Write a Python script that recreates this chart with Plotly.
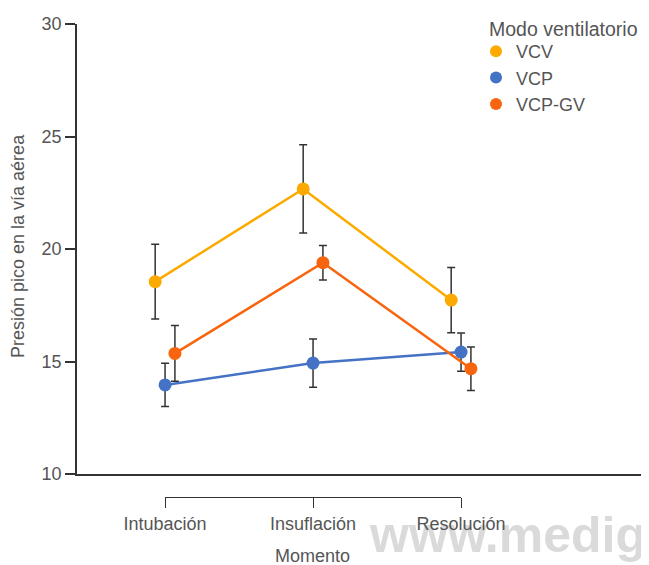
import plotly.graph_objects as go

momentos = ["Intubación", "Insuflación", "Resolución"]
series = ["VCV", "VCP", "VCP-GV"]
vcv_mean = [18.55, 22.67, 17.73]
vcv_err = [1.66, 1.96, 1.45]
vcp_mean = [13.96, 14.93, 15.42]
vcp_err = [0.96, 1.07, 0.85]
vcpgv_mean = [15.36, 19.39, 14.68]
vcpgv_err = [1.24, 0.77, 0.97]
colors = ["#FDAA00", "#4472C4", "#F8650E"]

means = [vcv_mean, vcp_mean, vcpgv_mean]
errs = [vcv_err, vcp_err, vcpgv_err]

FONT = "Liberation Sans, Arial, sans-serif"
TXT = "#555555"
AX = "#333333"

fig = go.Figure()
for name, m, e, c in zip(series, means, errs, colors):
    fig.add_trace(go.Scatter(
        x=momentos, y=m, name=name, mode="lines+markers",
        offsetgroup=name, showlegend=False,
        line=dict(color=c, width=2.5),
        marker=dict(color=c, size=13),
        error_y=dict(type="data", array=e, visible=True, color=AX,
                     thickness=1.5, width=4),
    ))
# legend entries (dot only)
for name, c in zip(series, colors):
    fig.add_trace(go.Scatter(
        x=[None], y=[None], name=name, mode="markers",
        marker=dict(color=c, size=13), showlegend=True,
    ))
# helper trace for bracket axis
fig.add_trace(go.Scatter(x=momentos, y=[None] * 3, xaxis="x2", yaxis="y",
                         showlegend=False, hoverinfo="skip", mode="markers"))

# page body has an 8px margin: work in screen pixels minus 8
OFF = 8
W, H = 649 - OFF, 565 - OFF
L, R, T = 77 - OFF, 0, 24 - OFF
B = H - (497 - OFF)
plot_h = H - T - B
plot_w = W - L - R
y_dom0 = (497 - 474) / plot_h


def px_x(sx):
    return (sx - OFF - L) / plot_w


def px_y(sy):
    return (H - B - (sy - OFF)) / plot_h


fig.update_layout(
    width=W, height=H,
    margin=dict(l=L, r=R, t=T, b=B, autoexpand=False),
    paper_bgcolor="white", plot_bgcolor="rgba(0,0,0,0)",
    font=dict(family=FONT, size=18, color=TXT),
    scattermode="group", scattergap=0.8,
    showlegend=True,
    legend=dict(
        x=px_x(476), y=px_y(33), xanchor="left", yanchor="top",
        font=dict(size=18, color=TXT), bgcolor="rgba(0,0,0,0)",
        itemsizing="constant",
    ),
    annotations=[
        dict(text="Modo ventilatorio", xref="paper", yref="paper",
             x=px_x(487), y=px_y(29), xanchor="left", yanchor="middle",
             showarrow=False, font=dict(size=19.5, color=TXT)),
        dict(text="Presión pico en la vía aérea", xref="paper", yref="paper",
             x=px_x(18), y=px_y(246), xanchor="center", yanchor="middle",
             textangle=-90, showarrow=False, font=dict(size=18, color=TXT)),
        dict(text="Momento", xref="paper", yref="paper",
             x=px_x(312), y=px_y(556), xanchor="center", yanchor="middle",
             showarrow=False, font=dict(size=18, color=TXT)),
    ],
    xaxis=dict(
        domain=[0, 1], range=[-0.595, 3.27], type="category",
        categoryorder="array", categoryarray=momentos,
        showline=True, linecolor=AX, linewidth=1.5,
        showticklabels=False, ticks="", showgrid=False, zeroline=False,
        anchor="y",
    ),
    xaxis2=dict(
        domain=[px_x(165), px_x(461)],
        range=[0, 2], type="category",
        categoryorder="array", categoryarray=momentos,
        anchor="free", position=0, side="bottom",
        showline=True, linecolor=AX, linewidth=1,
        ticks="outside", ticklen=10, tickwidth=1, tickcolor=AX,
        showgrid=False, zeroline=False,
        tickfont=dict(size=18, color=TXT),
        automargin=False,
    ),
    yaxis=dict(
        domain=[y_dom0, 1], range=[10, 30],
        tickvals=[10, 15, 20, 25, 30],
        showline=True, linecolor=AX, linewidth=1.5,
        ticks="outside", ticklen=10, tickwidth=1.5, tickcolor=AX,
        showgrid=False, zeroline=False,
        tickfont=dict(size=18, color=TXT),
        automargin=False,
    ),
    shapes=[dict(
        type="rect", xref="paper", yref="paper",
        x0=px_x(367), x1=px_x(645), y0=px_y(560), y1=px_y(500),
        line=dict(width=0), fillcolor="rgba(0,0,0,0)", layer="below",
        label=dict(text="www.medig", textposition="middle left",
                   font=dict(family="Liberation Sans, Arial",
                             size=50, color="#DADADA", weight="bold"),
                   padding=0),
    )],
)

fig.write_html("out.html")
